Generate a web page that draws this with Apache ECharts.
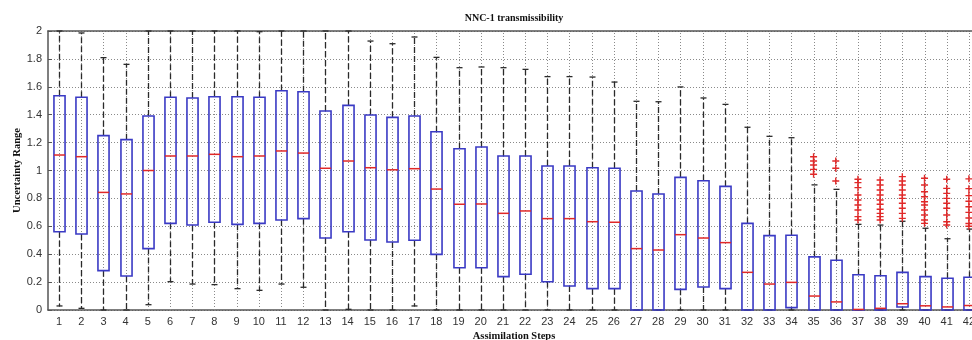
<!DOCTYPE html>
<html>
<head>
<meta charset="utf-8">
<script src="https://cdn.jsdelivr.net/npm/echarts@6/dist/echarts.min.js"></script>
<style>html,body{margin:0;padding:0;background:#fff}#c{width:972px;height:340px}</style>
</head>
<body>
<div id="c"></div>
<script>
const categories = ['1','2','3','4','5','6','7','8','9','10','11','12','13','14','15','16','17','18','19','20','21','22','23','24','25','26','27','28','29','30','31','32','33','34','35','36','37','38','39','40','41','42'];
const whiskerLow = [0.029,0.012,0,0,0.038,0.203,0.186,0.182,0.153,0.141,0.186,0.163,0,0.005,0,0,0.029,0,0,0,0,0,0,0,0,0,0,0,0,0,0,0,0,0,0,0,0,0,0,0,0,0];
const q1 = [0.561,0.545,0.282,0.244,0.44,0.621,0.609,0.629,0.614,0.621,0.645,0.655,0.516,0.561,0.502,0.487,0.5,0.399,0.303,0.303,0.239,0.256,0.203,0.172,0.153,0.153,0,0,0.148,0.165,0.153,0,0,0.017,0,0,0,0,0.022,0,0,0];
const median = [1.111,1.099,0.843,0.832,1.0,1.104,1.104,1.116,1.099,1.104,1.14,1.125,1.016,1.068,1.02,1.005,1.013,0.867,0.758,0.76,0.693,0.71,0.655,0.655,0.633,0.629,0.44,0.43,0.54,0.516,0.483,0.27,0.186,0.198,0.1,0.058,0.004,0.012,0.045,0.03,0.022,0.032];
const q3 = [1.536,1.525,1.25,1.221,1.391,1.525,1.52,1.529,1.529,1.525,1.572,1.565,1.427,1.467,1.398,1.381,1.391,1.278,1.156,1.168,1.104,1.104,1.032,1.032,1.02,1.016,0.853,0.832,0.951,0.927,0.886,0.621,0.533,0.536,0.381,0.357,0.253,0.246,0.27,0.239,0.228,0.235];
const whiskerHigh = [2.0,1.986,1.809,1.761,2.0,2.0,2.0,2.0,2.0,1.995,2.0,2.0,2.0,2.0,1.928,1.909,1.957,1.811,1.737,1.742,1.737,1.725,1.673,1.673,1.67,1.634,1.496,1.493,1.599,1.52,1.474,1.31,1.245,1.235,0.897,0.865,0.614,0.609,0.636,0.586,0.511,0.58];
const outlierSteps = ['35','36','37','38','39','40','41','42'];
const outlierValues = [
  [1.099,1.068,1.039,1.008,0.973],
  [1.068,1.016,0.925],
  [0.937,0.913,0.877,0.824,0.789,0.753,0.717,0.669,0.645],
  [0.932,0.896,0.86,0.824,0.789,0.758,0.722,0.693,0.669,0.645],
  [0.956,0.925,0.896,0.86,0.824,0.8,0.765,0.729,0.693,0.657],
  [0.944,0.896,0.848,0.812,0.776,0.753,0.717,0.681,0.645,0.621],
  [0.937,0.872,0.836,0.8,0.765,0.729,0.681,0.633,0.609],
  [0.94,0.87,0.82,0.78,0.74,0.70,0.66,0.62,0.6]
];
const yTicks = {min: 0, max: 2, interval: 0.2};

const boxData = categories.map((c, i) => [i, whiskerLow[i], q1[i], median[i], q3[i], whiskerHigh[i]]);
const outlierData = [];
outlierSteps.forEach((s, k) => {
  outlierValues[k].forEach(v => outlierData.push([s, v]));
});

const serif = '"Liberation Serif", "DejaVu Serif", serif';
const sans = '"Liberation Sans", Arial, sans-serif';

function renderBox(params, api) {
  const x = api.value(0);
  const pLow = api.coord([x, api.value(1)]);
  const pQ1 = api.coord([x, api.value(2)]);
  const pMed = api.coord([x, api.value(3)]);
  const pQ3 = api.coord([x, api.value(4)]);
  const pHigh = api.coord([x, api.value(5)]);
  const pTop = api.coord([x, yTicks.max]);
  const pBot = api.coord([x, yTicks.min]);
  const cw = api.size([1, 0])[0];
  const hw = cw * 0.25;
  const cap = 3;
  const cx = Math.round(pMed[0]) + 0.5;
  const dashStyle = {stroke: '#2a2a2a', lineWidth: 1.3, lineDash: [6, 3]};
  return {
    type: 'group',
    children: [
      {type: 'line', shape: {x1: cx, y1: pBot[1], x2: cx, y2: pTop[1]},
        style: {stroke: '#8a8a8a', lineWidth: 1, lineDash: [1, 2]}},
      {type: 'line', shape: {x1: cx, y1: pQ3[1], x2: cx, y2: pHigh[1]}, style: dashStyle},
      {type: 'line', shape: {x1: cx, y1: pQ1[1], x2: cx, y2: pLow[1]}, style: dashStyle},
      {type: 'line', shape: {x1: cx - cap, y1: pHigh[1], x2: cx + cap, y2: pHigh[1]},
        style: {stroke: '#2a2a2a', lineWidth: 1.3}},
      {type: 'line', shape: {x1: cx - cap, y1: pLow[1], x2: cx + cap, y2: pLow[1]},
        style: {stroke: '#2a2a2a', lineWidth: 1.3}},
      {type: 'rect', shape: {x: cx - hw, y: pQ3[1], width: hw * 2, height: pQ1[1] - pQ3[1]},
        style: {fill: 'none', stroke: '#3a3ac4', lineWidth: 1.6}},
      {type: 'line', shape: {x1: cx - hw, y1: pMed[1], x2: cx + hw, y2: pMed[1]},
        style: {stroke: '#e02828', lineWidth: 1.5}}
    ]
  };
}

const chart = echarts.init(document.getElementById('c'), null, {renderer: 'canvas'});
chart.setOption({
  animation: false,
  backgroundColor: '#ffffff',
  grid: {left: 48, right: -8, top: 31, bottom: 30, containLabel: false, outerBoundsMode: 'none'},
  graphic: [{
    type: 'text', x: 514, y: 18,
    style: {text: 'NNC-1 transmissibility', fill: '#111', font: 'bold 10px ' + serif,
      textAlign: 'center', textVerticalAlign: 'middle'}
  }],
  xAxis: [{
    type: 'category', data: categories, boundaryGap: true,
    name: 'Assimilation Steps', nameLocation: 'middle', nameGap: 21, nameMoveOverlap: false,
    nameTextStyle: {fontFamily: serif, fontWeight: 'bold', fontSize: 10.5, color: '#111'},
    axisLine: {lineStyle: {color: '#555', width: 1.5}},
    axisTick: {inside: true, alignWithLabel: true, length: 4, lineStyle: {color: '#555'}},
    axisLabel: {color: '#333', fontSize: 11, fontFamily: sans, margin: 6, interval: 0},
    splitLine: {show: false}
  }, {
    type: 'category', data: categories, position: 'top', boundaryGap: true,
    axisLine: {lineStyle: {color: '#555', width: 1.5}},
    axisTick: {inside: true, alignWithLabel: true, length: 3, lineStyle: {color: '#555'}},
    axisLabel: {show: false}, splitLine: {show: false}
  }],
  yAxis: {
    type: 'value', min: yTicks.min, max: yTicks.max, interval: yTicks.interval,
    name: 'Uncertainty Range', nameLocation: 'middle', nameGap: 25, nameMoveOverlap: false,
    nameTextStyle: {fontFamily: serif, fontWeight: 'bold', fontSize: 10.5, color: '#111'},
    axisLine: {show: true, lineStyle: {color: '#555', width: 1.5}},
    axisTick: {show: true, inside: true, length: 4, lineStyle: {color: '#555'}},
    axisLabel: {color: '#333', fontSize: 11, fontFamily: sans, margin: 6},
    splitLine: {show: true, lineStyle: {color: '#8a8a8a', type: [1, 2], width: 1}}
  },
  series: [{
    type: 'custom', xAxisIndex: 0, renderItem: renderBox,
    data: boxData, encode: {x: 0, y: [1, 2, 3, 4, 5]}, z: 3
  }, {
    type: 'scatter', xAxisIndex: 0, data: outlierData,
    symbol: 'path://M4,0H6V4H10V6H6V10H4V6H0V4H4Z', symbolSize: 7,
    itemStyle: {color: '#e02828', opacity: 1}, z: 4
  }]
});
</script>
</body>
</html>
